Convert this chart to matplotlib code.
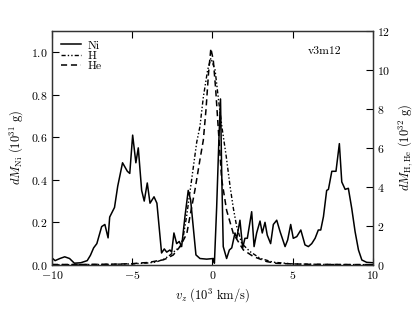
import matplotlib
matplotlib.use("Agg")
import matplotlib.pyplot as plt

plt.rcParams['font.family'] = 'serif'
plt.rcParams['font.serif'] = ['cmr10']
plt.rcParams['mathtext.fontset'] = 'cm'
plt.rcParams['axes.formatter.use_mathtext'] = True
plt.rcParams['font.size'] = 8.5

ni_v = [-10.0, -9.8, -9.5, -9.2, -8.9, -8.6, -8.2, -7.8, -7.6, -7.4, -7.2, -6.9, -6.7, -6.5,
        -6.4, -6.1, -5.9, -5.6, -5.3, -5.15, -4.97, -4.77, -4.62, -4.41, -4.25, -4.06, -3.89,
        -3.64, -3.46, -3.17, -3.0, -2.85, -2.65, -2.54, -2.40, -2.23, -2.07, -1.92, -1.71,
        -1.51, -1.36, -1.20, -1.03, -0.78, -0.36, 0.05, 0.12, 0.26, 0.40, 0.50, 0.57, 0.67,
        0.88, 1.05, 1.20, 1.40, 1.51, 1.71, 1.88, 2.02, 2.17, 2.44, 2.59, 2.75, 2.96, 3.10,
        3.27, 3.41, 3.62, 3.79, 4.0, 4.21, 4.52, 4.68, 4.87, 5.03, 5.25, 5.5, 5.76, 5.97,
        6.18, 6.39, 6.59, 6.74, 6.91, 7.11, 7.22, 7.43, 7.69, 7.9, 8.05, 8.26, 8.46, 8.67,
        8.88, 9.09, 9.3, 9.6, 10.0]
ni_m = [0.033, 0.02, 0.03, 0.038, 0.03, 0.008, 0.01, 0.02, 0.045, 0.08, 0.10, 0.18, 0.19, 0.127,
        0.225, 0.27, 0.37, 0.48, 0.44, 0.43, 0.61, 0.48, 0.55, 0.35, 0.30, 0.385, 0.29,
        0.32, 0.29, 0.056, 0.075, 0.06, 0.07, 0.06, 0.15, 0.10, 0.11, 0.086, 0.23,
        0.35, 0.305, 0.18, 0.047, 0.03, 0.027, 0.03, 0.008, 0.27, 0.59, 0.78, 0.45, 0.086,
        0.03, 0.07, 0.08, 0.15, 0.125, 0.21, 0.08, 0.125, 0.125, 0.25, 0.086, 0.15, 0.206, 0.15,
        0.20, 0.14, 0.10, 0.19, 0.21, 0.156, 0.086, 0.117, 0.19, 0.125, 0.133, 0.164, 0.094, 0.086,
        0.10, 0.125, 0.164, 0.164, 0.227, 0.35, 0.355, 0.44, 0.44, 0.57, 0.39, 0.355, 0.36, 0.266,
        0.156, 0.07, 0.023, 0.012, 0.01]

h_v = [-10.0, -7.0, -5.0, -4.0, -3.5, -3.0, -2.65, -2.0, -1.82, -1.61, -1.3, -0.98, -0.78,
       -0.57, -0.3, -0.1, 0.16, 0.4, 0.6, 0.85, 1.1, 1.3, 1.5, 1.82, 2.34, 2.96, 3.77, 5.0,
       7.0, 10.0]
h_m = [0.01, 0.02, 0.05, 0.1, 0.15, 0.3, 0.5, 0.95, 1.45, 2.5, 4.36, 6.3, 7.1,
       8.6, 10.0, 10.6, 10.0, 8.3, 7.0, 5.6, 4.0, 2.9, 2.0, 1.1, 0.68, 0.34, 0.14, 0.05,
       0.02, 0.01]

he_v = [-10.0, -8.0, -6.0, -5.0, -4.5, -4.0, -3.5, -3.06, -2.8, -2.44, -2.02, -1.6, -1.4,
        -1.09, -0.78, -0.57, -0.4, -0.25, -0.1, 0.05, 0.2, 0.4, 0.57, 0.88, 1.3, 1.92, 2.54,
        3.38, 4.0, 5.0, 6.0, 8.0, 10.0]
he_m = [0.02, 0.02, 0.04, 0.06, 0.1, 0.12, 0.2, 0.26, 0.35, 0.51, 0.94, 1.6, 2.5,
        3.85, 5.4, 6.4, 8.0, 9.8, 11.1, 10.5, 9.0, 6.5, 4.4, 2.8, 1.6, 0.77, 0.43,
        0.17, 0.08, 0.05, 0.03, 0.02, 0.01]

x_ticks = [-10, -5, 0, 5, 10]
ni_ticks = [0.0, 0.2, 0.4, 0.6, 0.8, 1.0]
hhe_ticks = [0, 2, 4, 6, 8, 10, 12]

fig = plt.figure(figsize=(4.15, 3.12), dpi=100)
ax = fig.add_axes([0.125, 0.151, 0.774, 0.750])
ax2 = ax.twinx()

l1, = ax.plot(ni_v, ni_m, color='black', lw=1.1, ls='-', label='Ni')
l2, = ax2.plot(h_v, h_m, color='black', lw=1.0, ls=(0, (3, 1.5, 1, 1.5, 1, 1.5)), label='H')
l3, = ax2.plot(he_v, he_m, color='black', lw=1.1, ls=(0, (4, 2.5)), label='He')

ax.set_xlim(-10, 10)
ax.set_ylim(0, 1.1)
ax2.set_ylim(0, 12)
ax.set_xticks(x_ticks)
ax.set_yticks(ni_ticks)
ax2.set_yticks(hhe_ticks)
ax.yaxis.set_major_formatter(matplotlib.ticker.FormatStrFormatter(r'$%.1f$'))

ax.tick_params(direction='in', length=5, width=0.8, top=True, right=False, pad=3)
ax2.tick_params(direction='in', length=5, width=0.8, pad=3)
for a in (ax, ax2):
    for s in a.spines.values():
        s.set_linewidth(0.9)
        s.set_color('#333333')

ax.set_xlabel(r'$v_z\ (10^3\ {\rm km/s})$', fontsize=9)
ax.set_ylabel(r'$dM_{\rm Ni}\ (10^{31}\ {\rm g})$', fontsize=9)
ax2.set_ylabel(r'$dM_{\rm H,He}\ (10^{32}\ {\rm g})$', fontsize=9)

ax2.legend(handles=[l1, l2, l3], loc='upper left', frameon=False, fontsize=8.5,
           handlelength=1.7, handletextpad=0.5, labelspacing=0.0,
           borderaxespad=0.4)
ax2.text(0.90, 0.915, 'v3m12', transform=ax.transAxes, ha='right', va='center', fontsize=8.5)

fig.savefig('out.png', dpi=100)
